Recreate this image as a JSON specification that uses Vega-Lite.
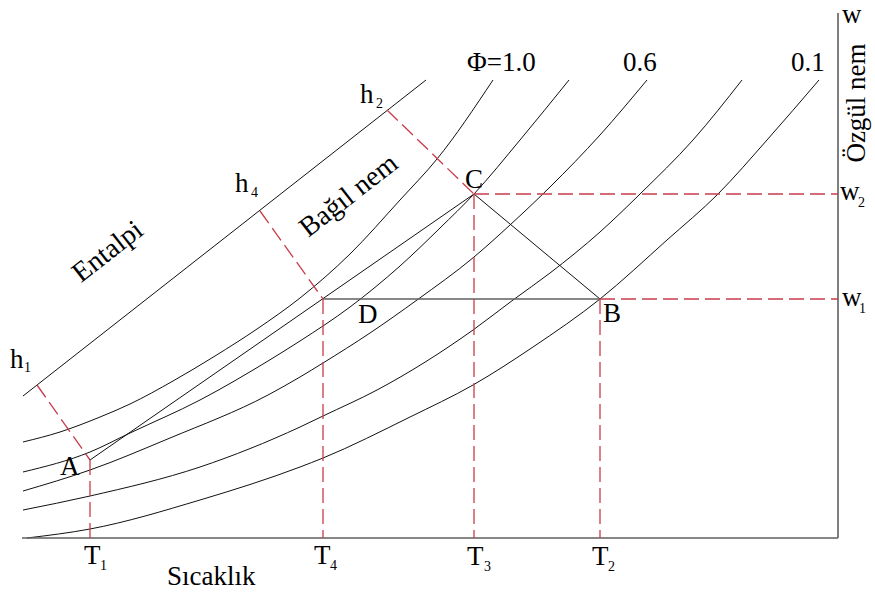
{
  "$schema": "https://vega.github.io/schema/vega-lite/v6.json",
  "width": 875,
  "height": 597,
  "padding": 0,
  "autosize": {"type": "none"},
  "background": "white",
  "config": {"view": {"stroke": null}},
  "datasets": {
    "curves": [
      {"name": "phi1", "t": 1, "w": 96}, {"name": "phi1", "t": 38, "w": 106}, {"name": "phi1", "t": 78, "w": 121}, {"name": "phi1", "t": 108, "w": 134},
      {"name": "phi1", "t": 151, "w": 157}, {"name": "phi1", "t": 193, "w": 182}, {"name": "phi1", "t": 235, "w": 209}, {"name": "phi1", "t": 278, "w": 240},
      {"name": "phi1", "t": 328, "w": 284}, {"name": "phi1", "t": 378, "w": 338}, {"name": "phi1", "t": 415, "w": 379}, {"name": "phi1", "t": 471, "w": 458},
      {"name": "phi2", "t": 1, "w": 66}, {"name": "phi2", "t": 68, "w": 86}, {"name": "phi2", "t": 108, "w": 105}, {"name": "phi2", "t": 178, "w": 138},
      {"name": "phi2", "t": 246, "w": 177}, {"name": "phi2", "t": 278, "w": 197}, {"name": "phi2", "t": 328, "w": 231}, {"name": "phi2", "t": 378, "w": 272},
      {"name": "phi2", "t": 418, "w": 310}, {"name": "phi2", "t": 452, "w": 344}, {"name": "phi2", "t": 498, "w": 398}, {"name": "phi2", "t": 547, "w": 458},
      {"name": "phi3", "t": 1, "w": 47}, {"name": "phi3", "t": 68, "w": 68}, {"name": "phi3", "t": 148, "w": 100}, {"name": "phi3", "t": 246, "w": 143},
      {"name": "phi3", "t": 278, "w": 161}, {"name": "phi3", "t": 301, "w": 175}, {"name": "phi3", "t": 348, "w": 205}, {"name": "phi3", "t": 395, "w": 238},
      {"name": "phi3", "t": 452, "w": 281}, {"name": "phi3", "t": 488, "w": 313}, {"name": "phi3", "t": 528, "w": 351}, {"name": "phi3", "t": 578, "w": 403},
      {"name": "phi3", "t": 625, "w": 458},
      {"name": "phi4", "t": 1, "w": 28}, {"name": "phi4", "t": 68, "w": 42}, {"name": "phi4", "t": 178, "w": 71}, {"name": "phi4", "t": 278, "w": 111},
      {"name": "phi4", "t": 301, "w": 122}, {"name": "phi4", "t": 355, "w": 148}, {"name": "phi4", "t": 451, "w": 208}, {"name": "phi4", "t": 491, "w": 238},
      {"name": "phi4", "t": 528, "w": 265}, {"name": "phi4", "t": 578, "w": 306}, {"name": "phi4", "t": 618, "w": 344}, {"name": "phi4", "t": 671, "w": 398},
      {"name": "phi4", "t": 720, "w": 458},
      {"name": "phi5", "t": 5, "w": 0}, {"name": "phi5", "t": 68, "w": 9}, {"name": "phi5", "t": 178, "w": 38}, {"name": "phi5", "t": 278, "w": 71},
      {"name": "phi5", "t": 301, "w": 80}, {"name": "phi5", "t": 388, "w": 121}, {"name": "phi5", "t": 451, "w": 153}, {"name": "phi5", "t": 511, "w": 191},
      {"name": "phi5", "t": 578, "w": 239}, {"name": "phi5", "t": 645, "w": 298}, {"name": "phi5", "t": 696, "w": 344}, {"name": "phi5", "t": 745, "w": 398},
      {"name": "phi5", "t": 797, "w": 458},
      {"name": "enthalpy", "t": 1, "w": 142}, {"name": "enthalpy", "t": 404, "w": 458},
      {"name": "A-C", "t": 68, "w": 78}, {"name": "A-C", "t": 452, "w": 344},
      {"name": "C-B", "t": 452, "w": 344}, {"name": "C-B", "t": 578, "w": 239}
    ],
    "frame": [
      {"name": "temperature axis", "t": 0, "w": 0, "t2": 816, "w2": 0},
      {"name": "humidity axis", "t": 816, "w": 0, "t2": 816, "w2": 525},
      {"name": "D-B", "t": 301, "w": 239, "t2": 578, "w2": 239}
    ],
    "guides": [
      {"name": "h1", "t": 15, "w": 153, "t2": 68, "w2": 78},
      {"name": "h4", "t": 238, "w": 327, "t2": 301, "w2": 239},
      {"name": "h2", "t": 365, "w": 428, "t2": 452, "w2": 344},
      {"name": "T1", "t": 68, "w": 78, "t2": 68, "w2": 0},
      {"name": "T4", "t": 301, "w": 239, "t2": 301, "w2": 0},
      {"name": "T3", "t": 452, "w": 344, "t2": 452, "w2": 0},
      {"name": "T2", "t": 578, "w": 239, "t2": 578, "w2": 0},
      {"name": "w2", "t": 452, "w": 344, "t2": 816, "w2": 344},
      {"name": "w1", "t": 578, "w": 239, "t2": 816, "w2": 239}
    ],
    "labels": [
      {"text": "Φ=1.0", "t": 445, "w": 467},
      {"text": "0.6", "t": 601, "w": 467},
      {"text": "0.1", "t": 769, "w": 467},
      {"text": "w", "t": 820, "w": 515},
      {"text": "w", "t": 818, "w": 338},
      {"text": "w", "t": 820, "w": 232},
      {"text": "Sıcaklık", "t": 145, "w": -47},
      {"text": "A", "t": 38, "w": 63},
      {"text": "D", "t": 336, "w": 215},
      {"text": "C", "t": 443, "w": 350},
      {"text": "B", "t": 581, "w": 216},
      {"text": "h", "t": -12, "w": 170},
      {"text": "h", "t": 213, "w": 346},
      {"text": "h", "t": 338, "w": 435},
      {"text": "T", "t": 62, "w": -26},
      {"text": "T", "t": 292, "w": -26},
      {"text": "T", "t": 445, "w": -27},
      {"text": "T", "t": 570, "w": -27}
    ],
    "subscripts": [
      {"text": "2", "t": 836, "w": 331},
      {"text": "1", "t": 837, "w": 225},
      {"text": "1", "t": 2, "w": 166},
      {"text": "4", "t": 229, "w": 341},
      {"text": "2", "t": 354, "w": 430},
      {"text": "1", "t": 78, "w": -32},
      {"text": "4", "t": 308, "w": -32},
      {"text": "3", "t": 462, "w": -33},
      {"text": "2", "t": 586, "w": -33}
    ],
    "slanted": [
      {"text": "Entalpi", "t": 86, "w": 286},
      {"text": "Bağıl nem", "t": 327, "w": 342}
    ],
    "vertical": [
      {"text": "Özgül nem", "t": 835, "w": 435}
    ]
  },
  "encoding": {
    "x": {"field": "t", "type": "quantitative", "scale": {"domain": [-22, 853], "nice": false, "zero": false}, "axis": null},
    "y": {"field": "w", "type": "quantitative", "scale": {"domain": [-59, 538], "nice": false, "zero": false}, "axis": null}
  },
  "layer": [
    {
      "data": {"name": "curves"},
      "mark": {"type": "line", "interpolate": "monotone", "stroke": "#111111", "strokeWidth": 1},
      "encoding": {"detail": {"field": "name", "type": "nominal"}}
    },
    {
      "data": {"name": "frame"},
      "mark": {"type": "rule", "stroke": "#5f5f5f", "strokeWidth": 1.6},
      "encoding": {"x2": {"field": "t2"}, "y2": {"field": "w2"}}
    },
    {
      "data": {"name": "guides"},
      "mark": {"type": "rule", "stroke": "#c83c4b", "strokeWidth": 1.3, "strokeDash": [15, 6]},
      "encoding": {"x2": {"field": "t2"}, "y2": {"field": "w2"}}
    },
    {
      "data": {"name": "labels"},
      "mark": {"type": "text", "font": "Liberation Serif", "fontSize": 27, "align": "left", "baseline": "alphabetic", "color": "#000000"},
      "encoding": {"text": {"field": "text"}}
    },
    {
      "data": {"name": "subscripts"},
      "mark": {"type": "text", "font": "Liberation Serif", "fontSize": 14, "align": "left", "baseline": "alphabetic", "color": "#000000"},
      "encoding": {"text": {"field": "text"}}
    },
    {
      "data": {"name": "slanted"},
      "mark": {"type": "text", "font": "Liberation Serif", "fontSize": 28, "align": "center", "baseline": "middle", "angle": -38, "color": "#000000"},
      "encoding": {"text": {"field": "text"}}
    },
    {
      "data": {"name": "vertical"},
      "mark": {"type": "text", "font": "Liberation Serif", "fontSize": 27, "align": "center", "baseline": "middle", "angle": -90, "color": "#000000"},
      "encoding": {"text": {"field": "text"}}
    }
  ]
}
